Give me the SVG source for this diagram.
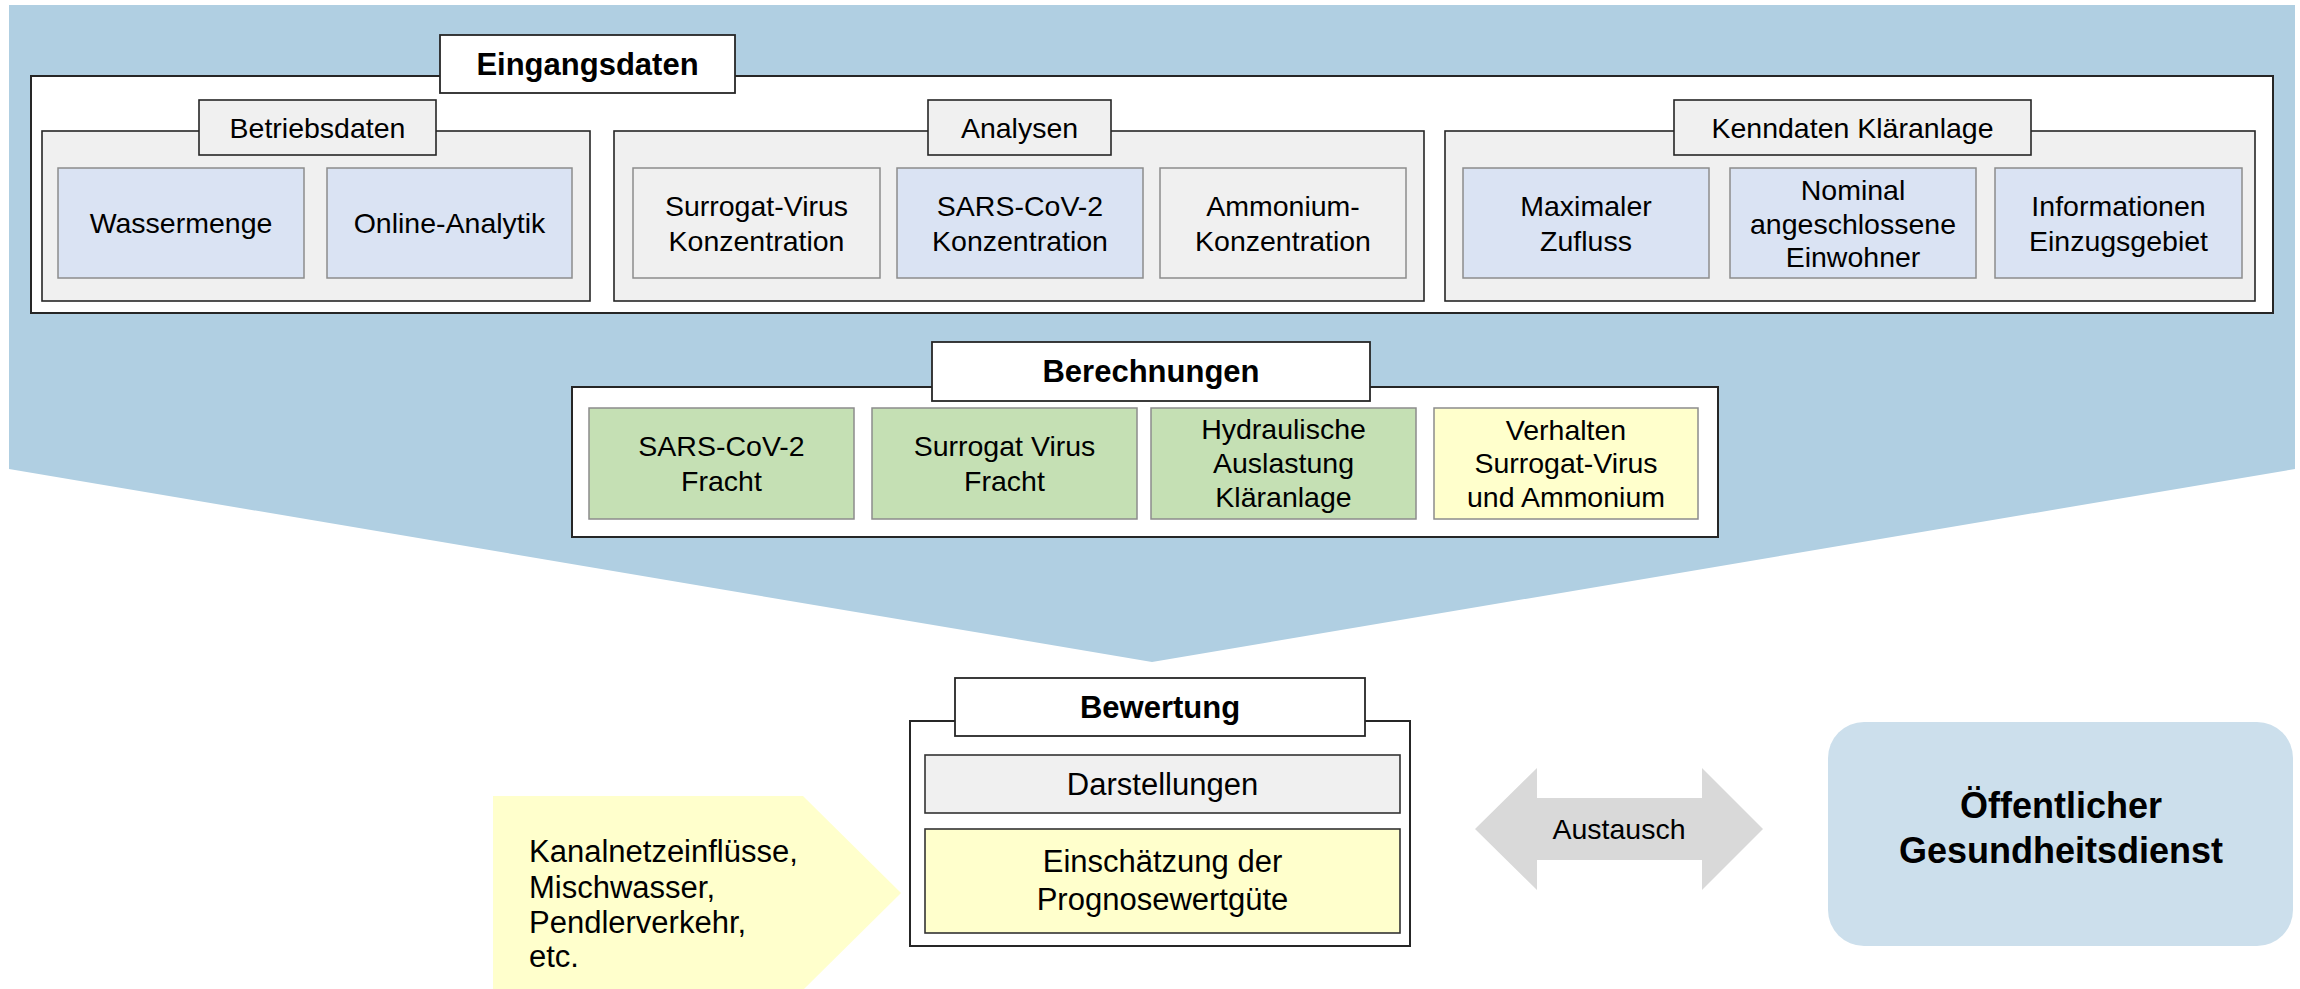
<svg xmlns="http://www.w3.org/2000/svg" width="2300" height="989" viewBox="0 0 2300 989">
  <style>
    .frame { fill: #FFFFFF; stroke: #262626; stroke-width: 2; }
    .group { fill: #F0F0F0; stroke: #262626; stroke-width: 1.6; }
    .head { fill: #F0F0F0; stroke: #262626; stroke-width: 1.6; }
    .title { fill: #FFFFFF; stroke: #262626; stroke-width: 1.8; }
    .blue { fill: #DAE3F3; stroke: #8C8C8C; stroke-width: 1.5; }
    .grey { fill: #F0F0F0; stroke: #8C8C8C; stroke-width: 1.5; }
    .green { fill: #C5E0B4; stroke: #8C8C8C; stroke-width: 1.5; }
    .yellow { fill: #FFFFCC; stroke: #8C8C8C; stroke-width: 1.5; }
    text { font-family: "Liberation Sans", Arial, sans-serif; fill: #000000; }
    .t { font-size: 28.5px; text-anchor: middle; }
    .tb { font-size: 31px; font-weight: bold; text-anchor: middle; }
    .tl { font-size: 31px; text-anchor: middle; }
    .tw { font-size: 31px; }
    .big { font-size: 36px; font-weight: bold; text-anchor: middle; }
  </style>

  <!-- large chevron behind the input and calculation blocks -->
  <polygon id="chevron" points="9,5 2295,5 2295,469 1152,662 9,469" fill="#B0CFE2"/>

  <!-- Eingangsdaten -->
  <g id="eingangsdaten">
    <rect class="frame" x="31" y="76" width="2242" height="237"/>
    <rect class="title" x="440" y="35" width="295" height="58"/>
    <text class="tb" x="587.5" y="75">Eingangsdaten</text>
  </g>

  <g id="betriebsdaten">
    <rect class="group" x="42" y="131" width="548" height="170"/>
    <rect class="head" x="199" y="100" width="237" height="55"/>
    <text class="t" x="317.5" y="138">Betriebsdaten</text>
  </g>
  <g id="wassermenge">
    <rect class="blue" x="58" y="168" width="246" height="110"/>
    <text class="t" x="181" y="233">Wassermenge</text>
  </g>
  <g id="online-analytik">
    <rect class="blue" x="327" y="168" width="245" height="110"/>
    <text class="t" x="449.5" y="233">Online-Analytik</text>
  </g>

  <g id="analysen">
    <rect class="group" x="614" y="131" width="810" height="170"/>
    <rect class="head" x="928" y="100" width="183" height="55"/>
    <text class="t" x="1019.5" y="138">Analysen</text>
  </g>
  <g id="surrogat-konz">
    <rect class="grey" x="633" y="168" width="247" height="110"/>
    <text class="t" x="756.5" y="216">Surrogat-Virus</text>
    <text class="t" x="756.5" y="251">Konzentration</text>
  </g>
  <g id="sars-konz">
    <rect class="blue" x="897" y="168" width="246" height="110"/>
    <text class="t" x="1020" y="216">SARS-CoV-2</text>
    <text class="t" x="1020" y="251">Konzentration</text>
  </g>
  <g id="ammonium-konz">
    <rect class="grey" x="1160" y="168" width="246" height="110"/>
    <text class="t" x="1283" y="216">Ammonium-</text>
    <text class="t" x="1283" y="251">Konzentration</text>
  </g>

  <g id="kenndaten">
    <rect class="group" x="1445" y="131" width="810" height="170"/>
    <rect class="head" x="1674" y="100" width="357" height="55"/>
    <text class="t" x="1852.5" y="138">Kenndaten Kläranlage</text>
  </g>
  <g id="max-zufluss">
    <rect class="blue" x="1463" y="168" width="246" height="110"/>
    <text class="t" x="1586" y="216">Maximaler</text>
    <text class="t" x="1586" y="251">Zufluss</text>
  </g>
  <g id="einwohner">
    <rect class="blue" x="1730" y="168" width="246" height="110"/>
    <text class="t" x="1853" y="200">Nominal</text>
    <text class="t" x="1853" y="233.5">angeschlossene</text>
    <text class="t" x="1853" y="267">Einwohner</text>
  </g>
  <g id="einzugsgebiet">
    <rect class="blue" x="1995" y="168" width="247" height="110"/>
    <text class="t" x="2118.5" y="216">Informationen</text>
    <text class="t" x="2118.5" y="251">Einzugsgebiet</text>
  </g>

  <!-- Berechnungen -->
  <g id="berechnungen">
    <rect class="frame" x="572" y="387" width="1146" height="150"/>
    <rect class="title" x="932" y="342" width="438" height="59"/>
    <text class="tb" x="1151" y="382">Berechnungen</text>
  </g>
  <g id="sars-fracht">
    <rect class="green" x="589" y="408" width="265" height="111"/>
    <text class="t" x="721.5" y="456">SARS-CoV-2</text>
    <text class="t" x="721.5" y="491">Fracht</text>
  </g>
  <g id="surrogat-fracht">
    <rect class="green" x="872" y="408" width="265" height="111"/>
    <text class="t" x="1004.5" y="456">Surrogat Virus</text>
    <text class="t" x="1004.5" y="491">Fracht</text>
  </g>
  <g id="hydraulik">
    <rect class="green" x="1151" y="408" width="265" height="111"/>
    <text class="t" x="1283.5" y="439">Hydraulische</text>
    <text class="t" x="1283.5" y="473">Auslastung</text>
    <text class="t" x="1283.5" y="507">Kläranlage</text>
  </g>
  <g id="verhalten">
    <rect class="yellow" x="1434" y="408" width="264" height="111"/>
    <text class="t" x="1566" y="440">Verhalten</text>
    <text class="t" x="1566" y="473">Surrogat-Virus</text>
    <text class="t" x="1566" y="507">und Ammonium</text>
  </g>

  <!-- Bewertung -->
  <g id="bewertung">
    <rect class="frame" x="910" y="721" width="500" height="225"/>
    <rect class="title" x="955" y="678" width="410" height="58"/>
    <text class="tb" x="1160" y="718">Bewertung</text>
  </g>
  <g id="darstellungen">
    <rect fill="#F0F0F0" stroke="#333333" stroke-width="1.6" x="925" y="755" width="475" height="58"/>
    <text class="tl" x="1162.5" y="795">Darstellungen</text>
  </g>
  <g id="prognosewertguete">
    <rect fill="#FFFFCC" stroke="#333333" stroke-width="1.6" x="925" y="829" width="475" height="104"/>
    <text class="tl" x="1162.5" y="872">Einschätzung der</text>
    <text class="tl" x="1162.5" y="910">Prognosewertgüte</text>
  </g>

  <!-- external influences -->
  <g id="einfluesse">
    <polygon points="493,796 803,796 901,893 803,990 493,990" fill="#FFFFCC"/>
    <text class="tw" x="529" y="862">Kanalnetzeinflüsse,</text>
    <text class="tw" x="529" y="898">Mischwasser,</text>
    <text class="tw" x="529" y="933">Pendlerverkehr,</text>
    <text class="tw" x="529" y="967">etc.</text>
  </g>

  <!-- Öffentlicher Gesundheitsdienst -->
  <g id="oegd">
    <rect x="1828" y="722" width="465" height="224" rx="36" ry="36" fill="#CCDFEC"/>
    <text class="big" x="2061" y="818">Öffentlicher</text>
    <text class="big" x="2061" y="863">Gesundheitsdienst</text>
  </g>

  <!-- connectors -->
  <g id="connectors">
    <polygon id="austausch" points="1475,829 1537,768 1537,798 1702,798 1702,768 1763,829 1702,890 1702,860 1537,860 1537,890" fill="#D9D9D9"/>
    <text class="t" x="1619" y="839">Austausch</text>
  </g>
</svg>
